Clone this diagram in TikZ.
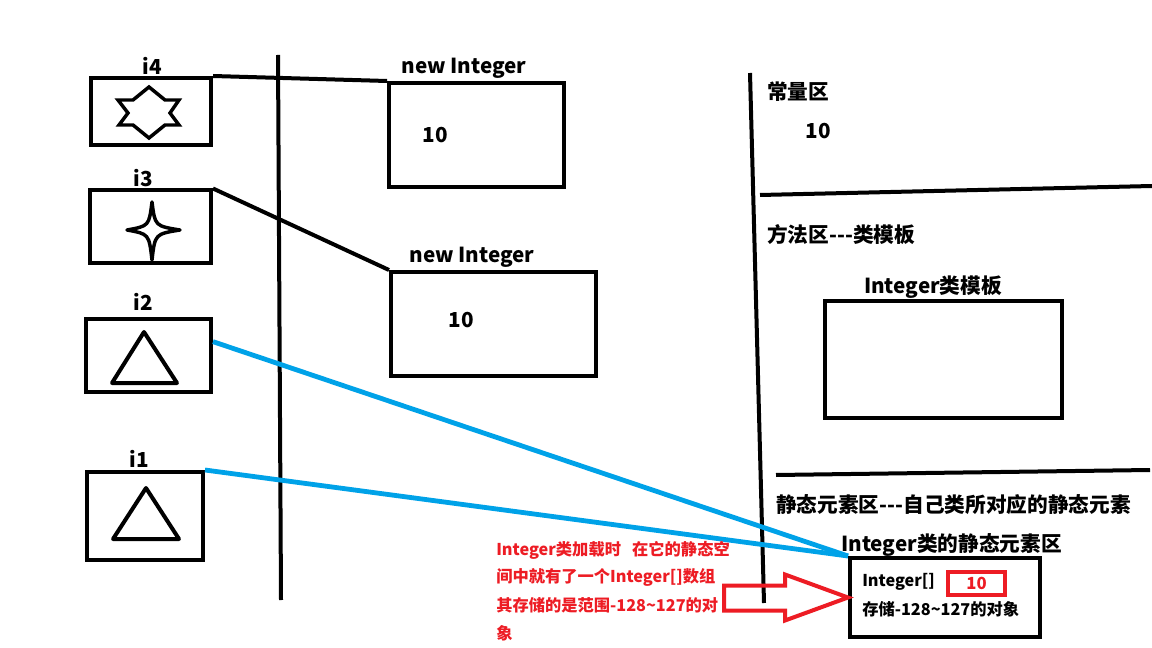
\documentclass[tikz,border=0pt]{standalone}
\usepackage{fontspec}
\setmainfont{Noto Sans CJK SC}
\usetikzlibrary{calc}
\definecolor{pblue}{RGB}{0,162,232}
\definecolor{pred}{RGB}{237,28,36}
\tikzset{
  box/.style={draw=black, line width=3pt, inner sep=0pt},
  thick line/.style={draw=black, line width=3pt},
  blue line/.style={draw=pblue, line width=3.6pt},
  head/.style={font=\bfseries\fontsize{15.5pt}{18pt}\selectfont, inner sep=0pt},
  redtxt/.style={font=\bfseries\fontsize{12.2pt}{14pt}\selectfont, text=pred, inner sep=0pt, anchor=west},
  small/.style={font=\bfseries\fontsize{12.2pt}{14pt}\selectfont, inner sep=0pt},
}
\begin{document}
\begin{tikzpicture}[x=0.75pt, y=-0.75pt]
\useasboundingbox[fill=white] (0,0) rectangle (1152,648);

% left references
\node[box, minimum width=120*0.75pt, minimum height=67*0.75pt] (b4) at (151,111.5) {};
\node[box, minimum width=121*0.75pt, minimum height=73*0.75pt] (b3) at (150.5,227) {};
\node[box, minimum width=125*0.75pt, minimum height=73*0.75pt] (b2) at (148.5,355.5) {};
\node[box, minimum width=116*0.75pt, minimum height=88*0.75pt] (b1) at (145,516) {};
\node[head] (l4) at (152,66) {i4};
\node[head] (l3) at (143,178) {i3};
\node[head] (l2) at (143,302) {i2};
\node[head] (l1) at (139,459) {i1};

% hexagram
\draw[line width=2.6pt, line join=miter] (118,100) -- (133,100) -- (149,87) -- (165,100) -- (179,100) -- (170,113) -- (179,125) -- (165,125) -- (149,138) -- (133,125) -- (119,125) -- (128,113) -- cycle;
% four point star
\draw[line width=2.6pt, line join=round] (152,202) .. controls (155,226) .. (180,230) .. controls (155,234) .. (152,260) .. controls (149,234) .. (127,230) .. controls (149,226) .. cycle;
% triangles
\draw[line width=3pt, line join=round] (144,332) -- (177,383) -- (112,383) -- cycle;
\draw[line width=3pt, line join=round] (146,488) -- (179,539) -- (113,539) -- cycle;

% divider
\coordinate (v1a) at (278,55);
\coordinate (v1b) at (281,600);
\draw[thick line] (v1a) -- (v1b);

% heap objects
\node[box, minimum width=175*0.75pt, minimum height=104*0.75pt] (n1) at (476.5,135) {};
\node[box, minimum width=205*0.75pt, minimum height=104*0.75pt] (n2) at (493.5,324) {};
\node[head, anchor=south] (t1) at (464,79) {new Integer};
\node[head, anchor=south] (t2) at (472,268) {new Integer};
\node[head] (v1) at (435,135) {10};
\node[head] (v2) at (461,320) {10};

\draw[thick line] (b4.north east) -- (n1.north west);
\draw[thick line] (b3.north east) -- (n2.north west);

% right area
\coordinate (v2a) at (750,73);
\coordinate (v2b) at (764,603);
\draw[thick line] (v2a) -- (v2b);
\coordinate (h1a) at (760,195);
\coordinate (h1b) at (1152,186);
\draw[thick line] (h1a) -- (h1b);
\coordinate (h2a) at (776,475);
\coordinate (h2b) at (1150,470);
\draw[thick line] (h2a) -- (h2b);

\node[head, anchor=west] (cq) at (767,92) {常量区};
\node[head] (cv) at (818,131) {10};
\node[head, anchor=west] (mq) at (767,235) {方法区-{}-{}-类模板};
\node[box, minimum width=237*0.75pt, minimum height=117*0.75pt] (mb) at (943.5,359.5) {};
\node[head, anchor=south] (mt) at (933,299) {Integer类模板};
\node[head, anchor=west] (sq) at (776,505) {静态元素区-{}-{}-自己类所对应的静态元素};
\node[head, anchor=west] (st) at (841,545) {Integer类的静态元素区};

\node[box, minimum width=190*0.75pt, minimum height=79*0.75pt] (sb) at (945,597.5) {};
\node[small, anchor=west] (arr) at (862,582) {Integer[]};
\node[draw=pred, line width=3pt, minimum width=57*0.75pt, minimum height=23*0.75pt, inner sep=0pt, text=pred, font=\bfseries\fontsize{12.5pt}{14pt}\selectfont] (rb) at (976.5,583.5) {10};
\node[small, anchor=west] (rng) at (862,609) {存储-128\textasciitilde127的对象};

% blue references
\draw[blue line] ($(b2.north east)!0.32!(b2.south east)$) -- (sb.north west);
\draw[blue line] (b1.north east) -- (sb.north west);

% red note
\node[redtxt] (r1) at (496,550) {Integer类加载时\ \ \ 在它的静态空};
\node[redtxt] (r2) at (496,577) {间中就有了一个Integer[]数组};
\node[redtxt] (r3) at (496,605) {其存储的是范围-128\textasciitilde127的对};
\node[redtxt] (r4) at (496,633) {象};

% hollow red arrow
\draw[draw=pred, line width=3pt, line join=miter] (sb.west) -- ++(-63,23) -- ++(0,-10) -- ++(-61,0) -- ++(0,-25) -- ++(61,0) -- ++(0,-11) -- cycle;
\end{tikzpicture}
\end{document}
